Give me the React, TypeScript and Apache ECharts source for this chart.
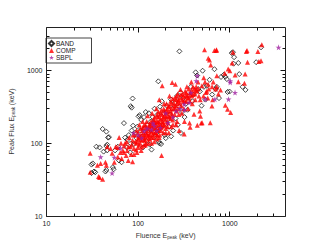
import React, { useEffect, useRef } from "react";
import * as echarts from "echarts";

const bandPoints: [number, number][] = [
  [31, 51], [32, 53], [31, 39], [34, 40], [33, 41], [44, 41], [45, 43], [53, 47], [54, 44], [42, 77],
  [45, 92], [47, 120], [48, 122], [38, 88], [41, 158], [45, 145], [35, 90], [46, 96], [46, 80], [56, 80],
  [60, 90], [62, 58], [66, 55], [70, 190], [72, 120], [75, 88], [76, 112], [79, 130], [82, 75], [83, 100],
  [83, 325], [85, 310], [87, 415], [85, 150], [88, 175], [90, 98], [93, 140], [96, 118], [98, 170], [101, 235],
  [104, 245], [106, 150], [108, 210], [111, 125], [113, 88], [116, 230], [118, 160], [121, 270], [123, 108], [126, 180],
  [129, 140], [131, 260], [134, 96], [137, 200], [140, 155], [140, 82], [144, 230], [148, 120], [151, 300], [155, 170],
  [160, 140], [163, 250], [166, 715], [168, 105], [171, 100], [173, 320], [176, 200], [178, 98], [181, 380], [185, 175],
  [190, 260], [195, 130], [200, 118], [205, 330], [211, 210], [216, 170], [221, 250], [229, 125], [229, 400], [236, 300],
  [241, 150], [251, 360], [256, 220], [266, 450], [271, 180], [282, 1850], [281, 320], [293, 139], [291, 500], [301, 270],
  [311, 420], [321, 230], [331, 350], [346, 290], [361, 450], [376, 600], [391, 380], [402, 470], [424, 951], [440, 860],
  [452, 560], [472, 520], [492, 330], [505, 1000], [522, 600], [542, 400], [562, 620], [602, 750], [642, 470], [680, 1050],
  [702, 560], [722, 600], [762, 420], [802, 820], [860, 880], [893, 826], [929, 767], [945, 510], [993, 517], [1082, 1800],
  [1114, 1535], [1238, 1280], [1268, 899], [1377, 600], [1483, 545], [1940, 1310], [2190, 2100], [1100, 1250], [1050, 1750],
];

const compPoints: [number, number][] = [
  [30, 73], [30, 40], [38, 34], [41, 32], [37, 35], [36, 50], [39, 53], [44, 55], [45, 50], [46, 90],
  [50, 85], [52, 73], [55, 55], [57, 90], [60, 88], [62, 120], [64, 75], [66, 62], [68, 80], [70, 92],
  [72, 100], [74, 68], [76, 80], [78, 58], [80, 120], [82, 90], [84, 70], [87, 56], [87, 110], [90, 85],
  [92, 130], [95, 100], [97, 75], [100, 140], [102, 95], [104, 120], [106, 160], [108, 80], [110, 110], [112, 200],
  [114, 140], [116, 95], [118, 130], [120, 180], [122, 100], [125, 150], [127, 240], [130, 115], [132, 170], [135, 130],
  [138, 200], [140, 100], [142, 260], [145, 160], [148, 120], [150, 210], [153, 140], [156, 180], [158, 300], [160, 115],
  [163, 230], [165, 150], [168, 190], [170, 400], [172, 130], [175, 260], [180, 68], [180, 170], [183, 620], [185, 220],
  [188, 140], [190, 300], [193, 180], [196, 240], [200, 160], [204, 350], [208, 200], [212, 270], [216, 140], [220, 450],
  [225, 220], [230, 300], [235, 690], [240, 180], [245, 360], [250, 250], [255, 650], [260, 400], [265, 200], [270, 480],
  [275, 300], [280, 150], [290, 550], [300, 260], [310, 380], [318, 135], [320, 200], [330, 450], [340, 600], [350, 300],
  [364, 190], [369, 167], [370, 500], [380, 700], [390, 350], [407, 251], [410, 560], [420, 400], [430, 600], [442, 178],
  [450, 700], [460, 450], [470, 280], [479, 237], [488, 190], [499, 192], [520, 800], [530, 1950], [550, 500], [580, 650],
  [582, 1480], [600, 1400], [612, 192], [620, 1200], [638, 327], [650, 400], [680, 1900], [700, 560], [712, 1900], [716, 1937],
  [720, 600], [722, 851], [750, 480], [791, 545], [879, 920], [893, 334], [945, 294], [960, 1060], [1000, 1000], [1020, 265],
  [1062, 1280], [1082, 1800], [1143, 871], [1238, 703], [1445, 675], [1470, 900], [1517, 1836], [1540, 1900], [1560, 1310], [2023, 1836],
  [2075, 1335], [2190, 1376], [2234, 2275],
  [85, 95], [88, 130], [93, 105], [96, 150], [99, 115], [103, 180], [107, 130], [110, 90], [113, 165], [117, 115],
  [121, 140], [124, 200], [128, 160], [131, 130], [136, 175], [139, 145], [143, 190], [147, 140], [151, 230], [154, 165],
  [159, 200], [162, 130], [166, 270], [169, 160], [174, 210], [178, 150], [182, 250], [187, 190], [192, 350], [198, 210],
  [203, 280], [209, 170], [214, 320], [219, 230], [226, 380], [232, 260], [238, 210], [244, 300], [252, 420], [258, 330],
  [263, 280], [272, 380], [278, 250], [286, 420], [296, 330], [306, 480], [315, 300], [326, 520], [336, 380], [346, 420],
  [356, 560], [367, 380], [386, 450], [396, 600], [415, 480], [436, 520], [455, 560], [476, 400], [496, 620], [516, 450],
  [536, 700], [560, 520], [575, 420], [590, 560], [640, 600], [660, 700],
  [60, 65], [65, 100], [70, 75], [75, 105], [78, 90], [90, 70], [95, 82], [100, 88], [105, 100], [120, 95],
  [130, 100], [140, 120], [150, 105], [160, 130], [170, 120], [200, 140], [230, 170], [260, 180],
  [98, 105], [102, 125], [106, 112], [111, 150], [115, 175], [119, 120], [123, 165], [127, 125], [133, 185], [137, 150],
  [141, 175], [146, 210], [149, 180], [152, 195], [157, 160], [161, 245], [164, 200], [167, 175], [171, 235], [176, 180],
  [179, 285], [184, 200], [189, 230], [194, 280], [199, 260], [202, 230], [207, 300], [213, 240], [218, 330], [224, 280],
  [229, 350], [234, 240], [239, 410], [247, 330], [254, 300], [262, 450], [268, 350], [276, 400], [284, 360], [294, 470],
  [303, 400], [312, 440], [323, 380], [334, 500], [344, 460], [358, 420], [372, 470], [384, 540], [398, 480], [425, 540],
  [112, 125], [118, 110], [126, 135], [134, 115], [144, 130], [155, 140], [166, 150], [177, 165], [188, 175], [210, 190],
];

const sbplPoints: [number, number][] = [
  [39, 65], [55, 64], [52, 39], [64, 86], [89, 139], [109, 119], [116, 147], [100, 130], [125, 160], [140, 155],
  [150, 175], [160, 150], [175, 165], [211, 192], [240, 230], [259, 278], [285, 300], [318, 345], [320, 290], [360, 364],
  [375, 500], [430, 726], [442, 853], [540, 405], [687, 405], [968, 405], [1010, 726], [1010, 690], [1140, 500], [3400, 2100],
  [200, 260], [145, 190],
];

const axisMin = 10;
const axisMax = 4000;
const majorTicks = [10, 100, 1000];
const minorTicks = [20, 30, 40, 50, 60, 70, 80, 90, 200, 300, 400, 500, 600, 700, 800, 900, 2000, 3000];

export default function App() {
  const ref = useRef<HTMLDivElement>(null);
  useEffect(() => {
    const chart = echarts.init(ref.current!, undefined, { renderer: "svg" });
    const font = "'Liberation Sans', Arial, Helvetica, sans-serif";
    const ink = "#222";
    const labelFmt = (v: number) => String(Math.round(v));
    const rich = {
      m: { fontSize: 7, fontFamily: font, color: "#333", lineHeight: 9 },
      s: { fontSize: 4.5, fontFamily: font, color: "#333", lineHeight: 5, verticalAlign: "bottom" },
    };
    chart.setOption({
      animation: false,
      backgroundColor: "#fff",
      grid: { left: 41, top: 27, width: 244, height: 189 },
      legend: {
        orient: "vertical",
        left: 46,
        top: 38,
        itemWidth: 5,
        itemHeight: 5,
        itemGap: 0,
        padding: [2, 16, 2, 2],
        borderColor: "#444",
        borderWidth: 1,
        backgroundColor: "#fff",
        textStyle: { fontSize: 6.5, fontFamily: font, color: ink, lineHeight: 5, padding: [0, 0, 0, -3] },
        data: ["BAND", "COMP", "SBPL"],
      },
      xAxis: {
        type: "log",
        min: axisMin,
        max: axisMax,
        position: "bottom",
        name: "{m|Fluence E}{s|peak}{m| (keV)}",
        nameLocation: "middle",
        nameGap: 10,
        nameTextStyle: { fontFamily: font, color: "#333", rich },
        axisLine: { show: false },
        axisTick: { show: false },
        axisLabel: { fontSize: 7, fontFamily: font, color: ink, margin: 4, formatter: labelFmt, showMaxLabel: false },
        splitLine: { show: false },
      },
      yAxis: {
        type: "log",
        min: axisMin,
        max: axisMax,
        position: "left",
        name: "{m|Peak Flux E}{s|peak}{m| (keV)}",
        nameLocation: "middle",
        nameGap: 24,
        nameTextStyle: { fontFamily: font, color: "#333", rich },
        axisLine: { show: false },
        axisTick: { show: false },
        axisLabel: { fontSize: 7, fontFamily: font, color: ink, margin: 4, formatter: labelFmt, showMaxLabel: false },
        splitLine: { show: false },
      },
      series: [
        {
          name: "BAND",
          type: "scatter",
          data: bandPoints,
          symbol: "diamond",
          symbolSize: 5,
          itemStyle: { color: "rgba(255,255,255,0)", borderColor: "#000", borderWidth: 0.9 },
        },
        {
          name: "COMP",
          type: "scatter",
          data: compPoints,
          symbol: "triangle",
          symbolSize: 5,
          itemStyle: { color: "#ff0000" },
        },
        {
          name: "SBPL",
          type: "scatter",
          data: sbplPoints,
          symbol: "path://M50,0 L61,35 L98,35 L68,57 L79,91 L50,70 L21,91 L32,57 L2,35 L39,35 Z",
          symbolSize: 6,
          itemStyle: { color: "#a020a0" },
        },
      ],
    });

    // Frame and log ticks, positioned through the chart's own axes.
    const crisp = (p: number) => Math.round(p - 0.5) + 0.5;
    const px = (v: number) => chart.convertToPixel({ xAxisIndex: 0 }, v) as number;
    const py = (v: number) => chart.convertToPixel({ yAxisIndex: 0 }, v) as number;
    const left = crisp(px(axisMin));
    const right = crisp(px(axisMax));
    const bottom = crisp(py(axisMin));
    const top = crisp(py(axisMax));
    const els: any[] = [];
    const line = (x1: number, y1: number, x2: number, y2: number) =>
      els.push({
        type: "line",
        silent: true,
        z: 50,
        shape: { x1, y1, x2, y2 },
        style: { stroke: "#111", lineWidth: 1 },
      });
    const addTicks = (vals: number[], len: number) => {
      vals.forEach((v) => {
        const x = crisp(px(v));
        line(x, bottom, x, bottom - len);
        line(x, top, x, top + len);
        const y = crisp(py(v));
        line(left, y, left + len, y);
        line(right, y, right - len, y);
      });
    };
    addTicks(majorTicks, 5);
    addTicks(minorTicks, 3);
    els.push({
      type: "rect",
      silent: true,
      z: 50,
      shape: { x: left, y: top, width: right - left, height: bottom - top },
      style: { fill: "none", stroke: ink, lineWidth: 1 },
    });
    chart.setOption({ graphic: { elements: els } });
    return () => chart.dispose();
  }, []);
  return (
    <div
      ref={ref}
      style={{ position: "fixed", left: 0, top: 0, width: 311, height: 249, background: "#fff" }}
    />
  );
}
